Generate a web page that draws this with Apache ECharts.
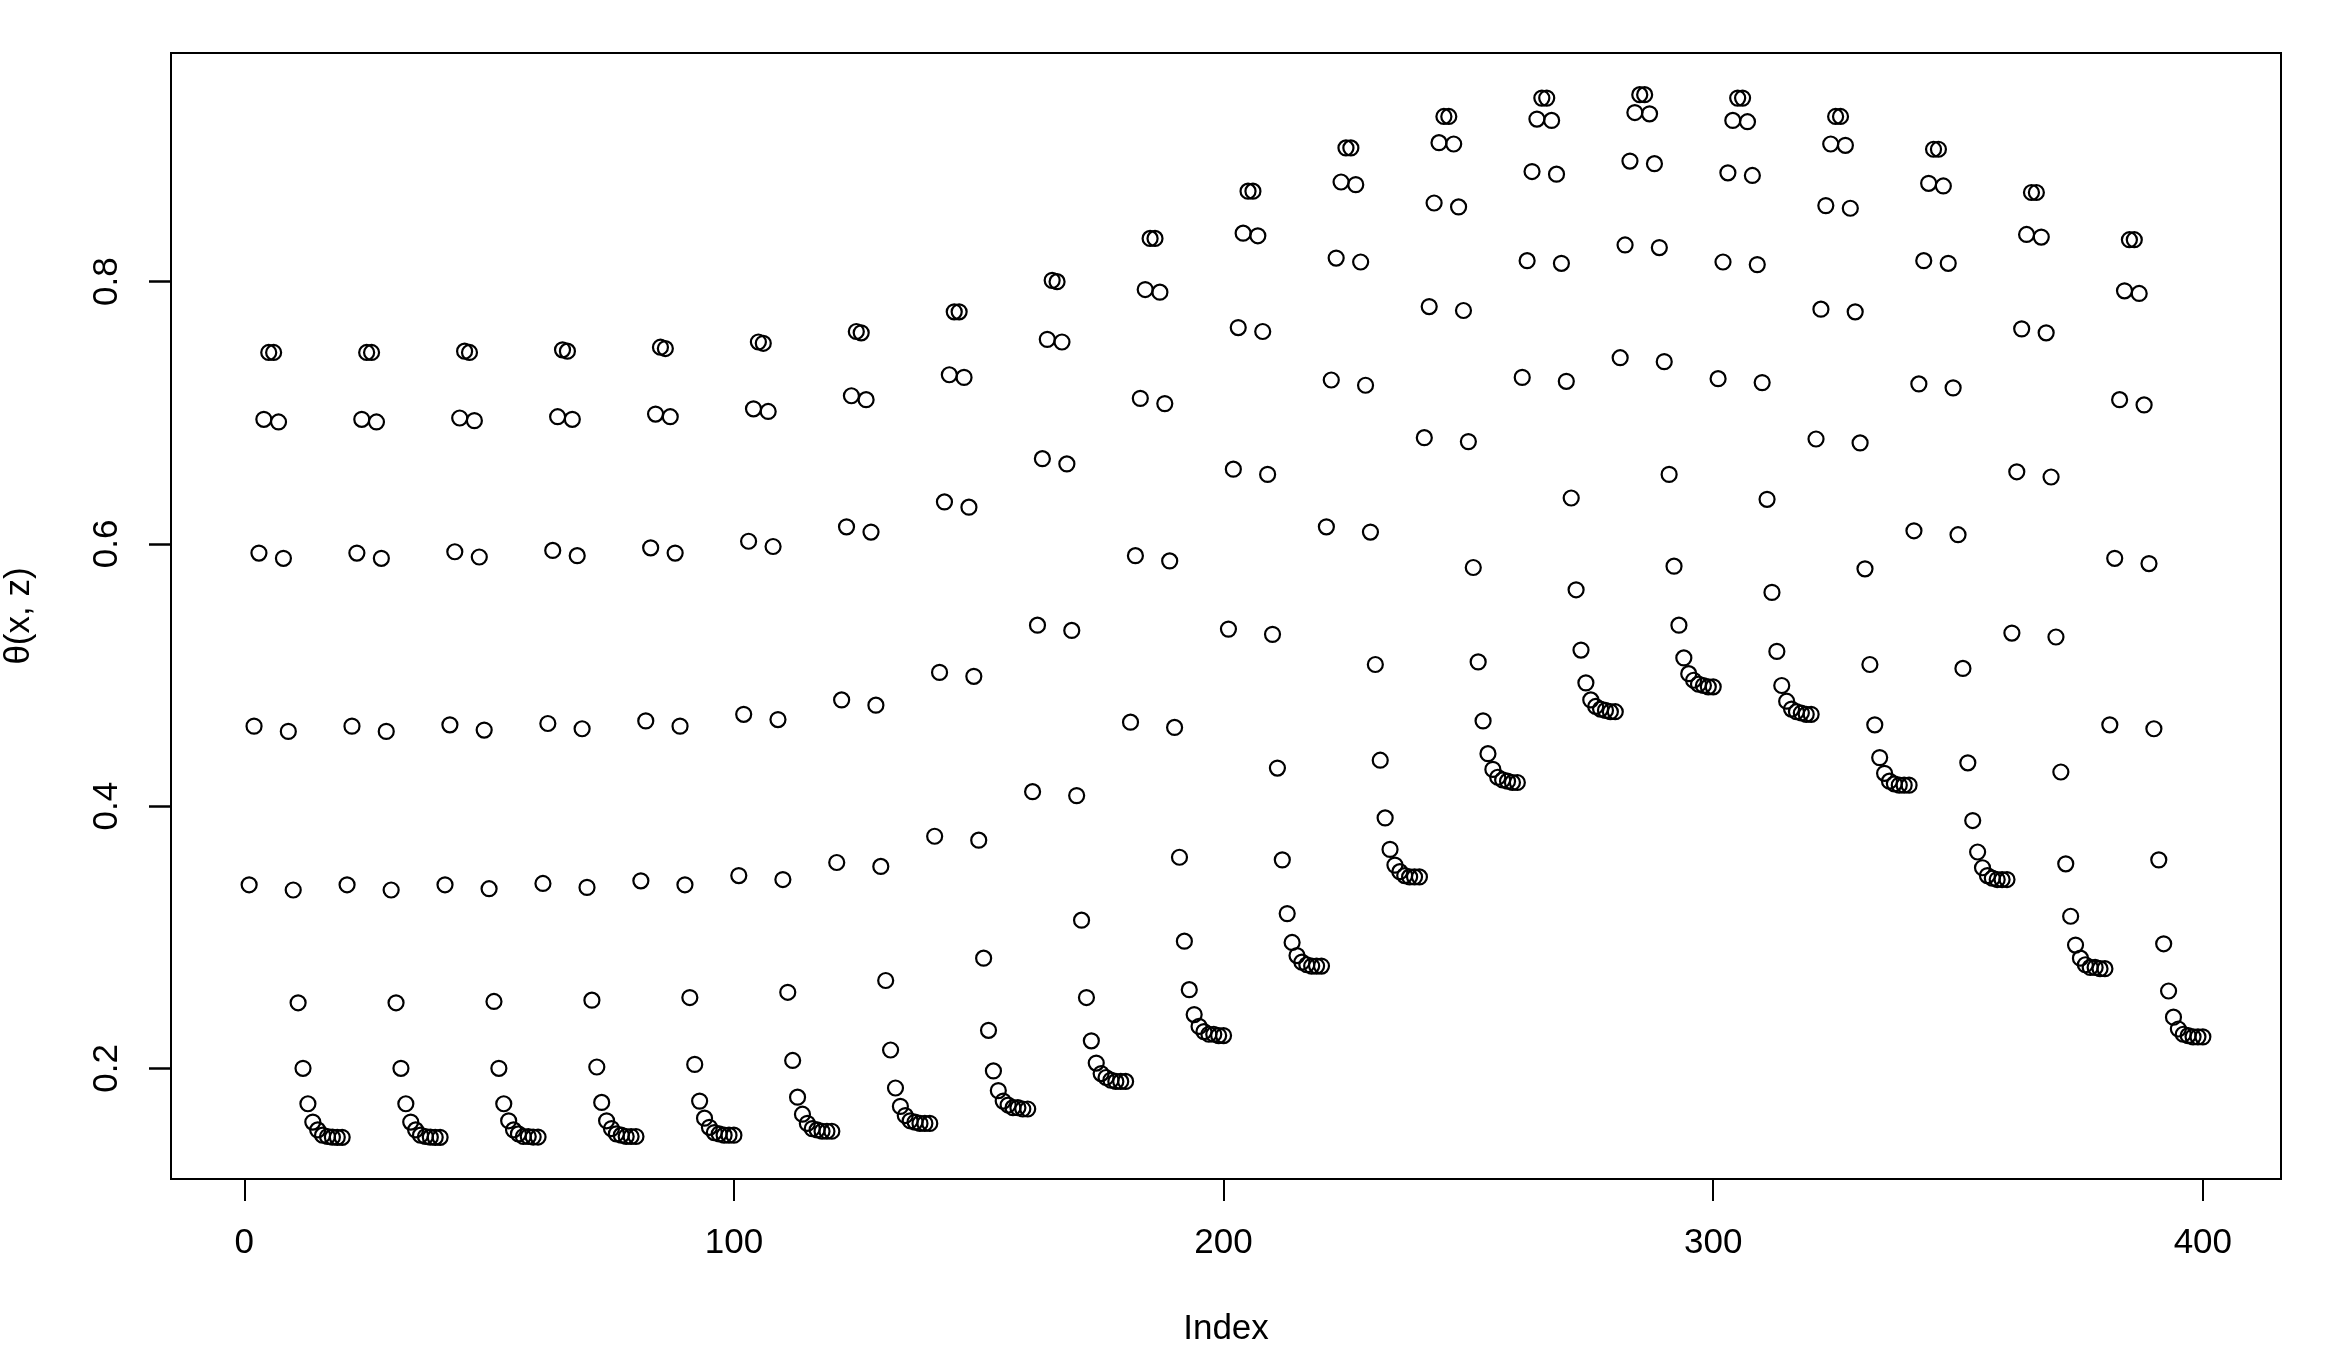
<!DOCTYPE html>
<html>
<head>
<meta charset="utf-8">
<script src="https://cdn.jsdelivr.net/npm/echarts@6/dist/echarts.min.js"></script>
<style>
html,body{margin:0;padding:0;background:#fff;}
#chart{width:2344px;height:1368px;}
</style>
</head>
<body>
<div id="chart"></div>
<script>
// Values of theta(x, z), 20 blocks of 20 consecutive indices
const b01 = [0.340,0.461,0.593,0.695,0.746,0.746,0.693,0.589,0.457,0.336,0.250,0.200,0.173,0.159,0.153,0.149,0.148,0.1475,0.1474,0.1474];
const b02 = [0.340,0.461,0.593,0.695,0.746,0.746,0.693,0.589,0.457,0.336,0.250,0.200,0.173,0.159,0.153,0.149,0.148,0.1475,0.1474,0.1474];
const b03 = [0.340,0.462,0.594,0.696,0.747,0.746,0.694,0.590,0.458,0.337,0.251,0.200,0.173,0.160,0.153,0.150,0.148,0.148,0.1476,0.1476];
const b04 = [0.341,0.463,0.595,0.697,0.748,0.747,0.695,0.591,0.459,0.338,0.252,0.201,0.174,0.160,0.154,0.150,0.149,0.148,0.148,0.148];
const b05 = [0.343,0.465,0.597,0.699,0.750,0.749,0.697,0.593,0.461,0.340,0.254,0.203,0.175,0.162,0.155,0.151,0.150,0.149,0.149,0.149];
const b06 = [0.347,0.470,0.602,0.703,0.754,0.753,0.701,0.598,0.466,0.344,0.258,0.206,0.178,0.165,0.158,0.154,0.153,0.152,0.152,0.152];
const b07 = [0.357,0.481,0.613,0.713,0.762,0.761,0.710,0.609,0.477,0.354,0.267,0.214,0.185,0.171,0.164,0.160,0.159,0.158,0.158,0.158];
const b08 = [0.377,0.502,0.632,0.729,0.777,0.777,0.727,0.628,0.499,0.374,0.284,0.229,0.198,0.183,0.175,0.172,0.170,0.170,0.169,0.169];
const b09 = [0.411,0.538,0.665,0.756,0.801,0.800,0.754,0.661,0.534,0.408,0.313,0.254,0.221,0.204,0.196,0.193,0.191,0.190,0.190,0.190];
const b10 = [0.464,0.591,0.711,0.794,0.833,0.833,0.792,0.707,0.587,0.460,0.361,0.297,0.260,0.241,0.232,0.228,0.226,0.226,0.225,0.225];
const b11 = [0.535,0.657,0.765,0.837,0.869,0.869,0.835,0.762,0.653,0.531,0.429,0.359,0.318,0.296,0.286,0.281,0.279,0.278,0.278,0.278];
const b12 = [0.613,0.725,0.818,0.876,0.902,0.902,0.874,0.815,0.721,0.609,0.508,0.435,0.391,0.367,0.355,0.350,0.347,0.346,0.346,0.346];
const b13 = [0.681,0.781,0.860,0.906,0.926,0.926,0.905,0.857,0.778,0.678,0.582,0.510,0.465,0.440,0.428,0.422,0.420,0.419,0.418,0.418];
const b14 = [0.727,0.816,0.884,0.924,0.940,0.940,0.923,0.882,0.814,0.724,0.635,0.565,0.519,0.494,0.481,0.476,0.474,0.473,0.472,0.472];
const b15 = [0.742,0.828,0.892,0.929,0.9426,0.9426,0.928,0.890,0.826,0.739,0.653,0.583,0.538,0.513,0.501,0.496,0.493,0.492,0.491,0.491];
const b16 = [0.726,0.815,0.883,0.923,0.940,0.940,0.922,0.881,0.813,0.723,0.634,0.563,0.518,0.492,0.480,0.474,0.472,0.471,0.470,0.470];
const b17 = [0.680,0.779,0.858,0.905,0.926,0.926,0.904,0.856,0.777,0.677,0.581,0.508,0.462,0.437,0.425,0.419,0.417,0.416,0.416,0.416];
const b18 = [0.610,0.722,0.816,0.875,0.901,0.901,0.873,0.814,0.719,0.607,0.505,0.433,0.389,0.365,0.353,0.347,0.345,0.344,0.344,0.344];
const b19 = [0.532,0.655,0.764,0.836,0.868,0.868,0.834,0.761,0.651,0.529,0.426,0.356,0.316,0.294,0.284,0.279,0.277,0.277,0.276,0.276];
const b20 = [0.462,0.589,0.710,0.793,0.832,0.832,0.791,0.706,0.585,0.459,0.359,0.295,0.259,0.239,0.230,0.226,0.225,0.224,0.224,0.224];

const xTicks = [0, 100, 200, 300, 400];
const yTicks = [0.2, 0.4, 0.6, 0.8];
const xTitle = 'Index';
const yTitle = 'θ(x, z)';

const values = [].concat(b01,b02,b03,b04,b05,b06,b07,b08,b09,b10,b11,b12,b13,b14,b15,b16,b17,b18,b19,b20);
const points = values.map((v, i) => [i + 1, v]);

const FONT = '"Liberation Sans", Arial, Helvetica, sans-serif';
// R-style 4% axis extension
const rMin = v => v.min - 0.04 * (v.max - v.min);
const rMax = v => v.max + 0.04 * (v.max - v.min);

const chart = echarts.init(document.getElementById('chart'), null, {renderer: 'canvas'});
chart.setOption({
  animation: false,
  backgroundColor: '#ffffff',
  grid: {
    left: 171, right: 63, top: 53, bottom: 189,
    containLabel: false, outerBoundsMode: 'none',
    show: true, borderColor: '#000', borderWidth: 2, backgroundColor: 'transparent'
  },
  xAxis: {
    type: 'value',
    min: rMin, max: rMax,
    name: xTitle, nameLocation: 'middle', nameGap: 133,
    nameTextStyle: {fontFamily: FONT, fontSize: 35, color: '#000'},
    axisLine: {show: false, onZero: false},
    splitLine: {show: false},
    axisTick: {show: true, inside: false, length: 22, customValues: xTicks, lineStyle: {color: '#000', width: 2}},
    axisLabel: {show: true, margin: 47, customValues: xTicks, fontFamily: FONT, fontSize: 35, color: '#000',
      formatter: v => String(v)}
  },
  yAxis: {
    type: 'value',
    min: rMin, max: rMax,
    name: yTitle, nameLocation: 'middle', nameGap: 134, nameRotate: 90,
    nameTextStyle: {fontFamily: FONT, fontSize: 35, color: '#000'},
    axisLine: {show: false, onZero: false},
    splitLine: {show: false},
    axisTick: {show: true, inside: false, length: 22, customValues: yTicks, lineStyle: {color: '#000', width: 2.5}},
    axisLabel: {show: true, margin: 46, rotate: 90, customValues: yTicks, fontFamily: FONT, fontSize: 35, color: '#000',
      formatter: v => v.toFixed(1)}
  },
  series: [{
    type: 'scatter',
    data: points,
    symbol: 'circle',
    symbolSize: 15,
    itemStyle: {color: 'rgba(0,0,0,0)', borderColor: '#000', borderWidth: 2.2, opacity: 1},
    emphasis: {disabled: true},
    silent: true
  }]
});
</script>
</body>
</html>
